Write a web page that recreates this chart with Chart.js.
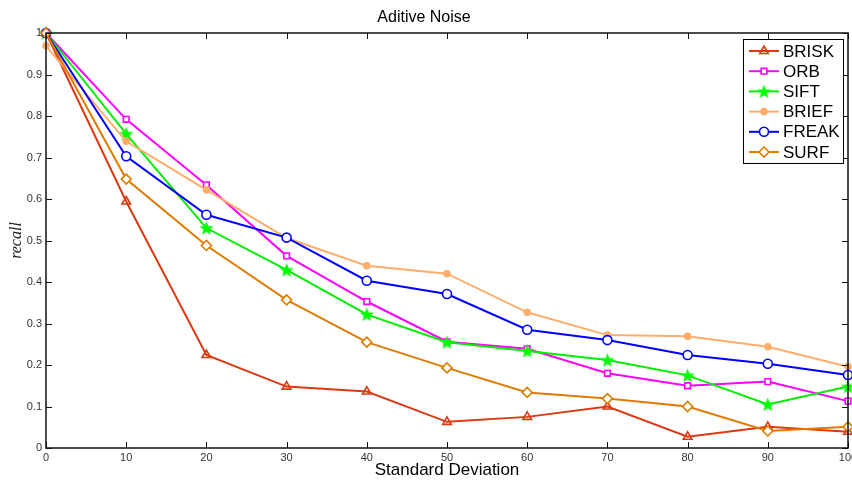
<!DOCTYPE html>
<html>
<head>
<meta charset="utf-8">
<script src="https://cdn.jsdelivr.net/npm/chart.js@4"></script>
<style>
  html, body { margin: 0; padding: 0; background: #fff; }
  canvas { display: block; }
</style>
</head>
<body>
<canvas id="chart" width="852" height="482"></canvas>
<script>
// x values (standard deviation of the noise) and y tick marks
const stdDev = [0, 10, 20, 30, 40, 50, 60, 70, 80, 90, 100];
const xTicks = [0, 10, 20, 30, 40, 50, 60, 70, 80, 90, 100];
const yTicks = [0, 0.1, 0.2, 0.3, 0.4, 0.5, 0.6, 0.7, 0.8, 0.9, 1];

// recall per descriptor
const brisk = [1.0, 0.594, 0.224, 0.148, 0.136, 0.063, 0.075, 0.100, 0.027, 0.051, 0.039];
const orb   = [1.0, 0.792, 0.634, 0.463, 0.353, 0.256, 0.239, 0.180, 0.150, 0.160, 0.113];
const sift  = [1.0, 0.757, 0.530, 0.429, 0.322, 0.255, 0.234, 0.212, 0.175, 0.105, 0.148];
const brief = [0.969, 0.739, 0.622, 0.506, 0.439, 0.420, 0.327, 0.272, 0.269, 0.244, 0.196];
const freak = [1.0, 0.703, 0.562, 0.507, 0.403, 0.371, 0.285, 0.260, 0.224, 0.203, 0.176];
const surf  = [1.0, 0.648, 0.488, 0.357, 0.255, 0.193, 0.134, 0.119, 0.100, 0.041, 0.051];

const FONT = '"Liberation Sans", Arial, sans-serif';

// filled pentagram marker for SIFT (matlab style)
function makeStar(color, size) {
    const c = document.createElement('canvas');
    c.width = size; c.height = size;
    const g = c.getContext('2d');
    const cx = size / 2, cy = size / 2 + 0.6;
    const R = size / 2, r = R * 0.42;
    g.beginPath();
    for (let i = 0; i < 10; i++) {
        const rad = i % 2 === 0 ? R : r;
        const a = -Math.PI / 2 + i * Math.PI / 5;
        const px = cx + rad * Math.cos(a), py = cy + rad * Math.sin(a);
        if (i === 0) g.moveTo(px, py); else g.lineTo(px, py);
    }
    g.closePath();
    g.fillStyle = color;
    g.fill();
    return c;
}
const starImg = makeStar('#00ff00', 15);

function series(label, data, color, style, radius, fill) {
    return {
        label: label,
        data: data.map((v, i) => ({ x: stdDev[i], y: v })),
        borderColor: color,
        backgroundColor: color,
        borderWidth: 2,
        pointStyle: style,
        pointRadius: radius,
        pointBorderWidth: 1.6,
        pointBorderColor: color,
        pointBackgroundColor: fill,
        tension: 0,
        clip: false
    };
}

const datasets = [
    series('BRISK', brisk, '#d93a12', 'triangle', 5, 'rgba(255,255,255,0)'),
    series('ORB', orb, '#ff00ff', 'rect', 4, '#ffffff'),
    series('SIFT', sift, '#00ee00', starImg, 7, '#00ff00'),
    series('BRIEF', brief, '#ffad6b', 'circle', 3, '#ffad6b'),
    series('FREAK', freak, '#0000ff', 'circle', 4.5, '#ffffff'),
    series('SURF', surf, '#e07b00', 'rectRot', 5, '#ffffff')
];
datasets.forEach((d, i) => { d.order = datasets.length - i; });

// box, inward ticks and the legend in the upper right corner
const boxPlugin = {
    id: 'box',
    afterDatasetsDraw(chart) {
        const ctx = chart.ctx;
        const a = chart.chartArea;
        const xs = chart.scales.x, ys = chart.scales.y;
        ctx.save();
        ctx.strokeStyle = '#111';
        ctx.lineWidth = 1.5;
        ctx.strokeRect(a.left, a.top, a.right - a.left, a.bottom - a.top);
        ctx.lineWidth = 1;
        ctx.beginPath();
        xTicks.forEach(v => {
            const px = Math.round(xs.getPixelForValue(v)) + 0.5;
            ctx.moveTo(px, a.bottom); ctx.lineTo(px, a.bottom - 6);
            ctx.moveTo(px, a.top); ctx.lineTo(px, a.top + 6);
        });
        yTicks.forEach(v => {
            const py = Math.round(ys.getPixelForValue(v)) + 0.5;
            ctx.moveTo(a.left, py); ctx.lineTo(a.left + 6, py);
            ctx.moveTo(a.right, py); ctx.lineTo(a.right - 6, py);
        });
        ctx.stroke();

        // legend
        const lx = 743, ly = 39, lw = 100, lh = 124;
        ctx.fillStyle = '#fff';
        ctx.fillRect(lx, ly, lw, lh);
        ctx.strokeStyle = '#000';
        ctx.lineWidth = 1;
        ctx.strokeRect(lx + 0.5, ly + 0.5, lw, lh);
        ctx.font = '17px ' + FONT;
        ctx.textBaseline = 'middle';
        datasets.forEach((d, i) => {
            const y = 51 + i * 20.2;
            ctx.strokeStyle = d.borderColor;
            ctx.lineWidth = 2;
            ctx.beginPath();
            ctx.moveTo(749, y); ctx.lineTo(779, y);
            ctx.stroke();
            ctx.lineWidth = d.pointBorderWidth;
            ctx.fillStyle = d.pointBackgroundColor;
            Chart.helpers.drawPoint(ctx, {
                pointStyle: d.pointStyle,
                radius: d.pointRadius,
                rotation: 0,
                borderWidth: d.pointBorderWidth
            }, 764, y);
            ctx.fillStyle = '#000';
            ctx.fillText(d.label, 783, y + 1);
        });
        ctx.restore();
    }
};

const ctx = document.getElementById('chart').getContext('2d');
new Chart(ctx, {
    type: 'line',
    data: { datasets: datasets },
    options: {
        responsive: false,
        animation: false,
        devicePixelRatio: 1,
        layout: { autoPadding: false, padding: { left: 0, right: 4, top: 0, bottom: 0 } },
        plugins: {
            legend: { display: false },
            tooltip: { enabled: false },
            title: {
                display: true,
                text: 'Aditive Noise',
                color: '#000',
                font: { family: FONT, size: 16, weight: 'normal' },
                padding: { top: 8.4, bottom: 5.4 }
            }
        },
        scales: {
            x: {
                type: 'linear',
                min: 0, max: 100,
                afterBuildTicks: s => { s.ticks = xTicks.map(v => ({ value: v })); },
                afterFit: s => { s.height = 34; s.paddingLeft = 0; s.paddingRight = 0; },
                grid: { display: false, drawTicks: false, tickLength: 0 },
                border: { display: false },
                ticks: {
                    color: '#333',
                    padding: 3,
                    maxRotation: 0,
                    font: { family: FONT, size: 11 },
                    callback: v => String(v)
                },
                title: {
                    display: true,
                    text: 'Standard Deviation',
                    color: '#000',
                    padding: { top: 0, bottom: 1 },
                    font: { family: FONT, size: 17 }
                }
            },
            y: {
                type: 'linear',
                min: 0, max: 1,
                afterBuildTicks: s => { s.ticks = yTicks.map(v => ({ value: v })); },
                afterFit: s => { s.width = 46; s.paddingTop = 0; s.paddingBottom = 0; },
                grid: { display: false, drawTicks: false, tickLength: 0 },
                border: { display: false },
                ticks: {
                    color: '#333',
                    padding: 4,
                    font: { family: FONT, size: 11 },
                    callback: v => String(Number(v.toFixed(1)))
                },
                title: {
                    display: true,
                    text: 'recall',
                    color: '#222',
                    padding: { top: 7, bottom: 0 },
                    font: { family: '"Liberation Serif", "DejaVu Serif", serif', size: 16, style: 'italic' }
                }
            }
        }
    },
    plugins: [boxPlugin]
});
</script>
</body>
</html>
